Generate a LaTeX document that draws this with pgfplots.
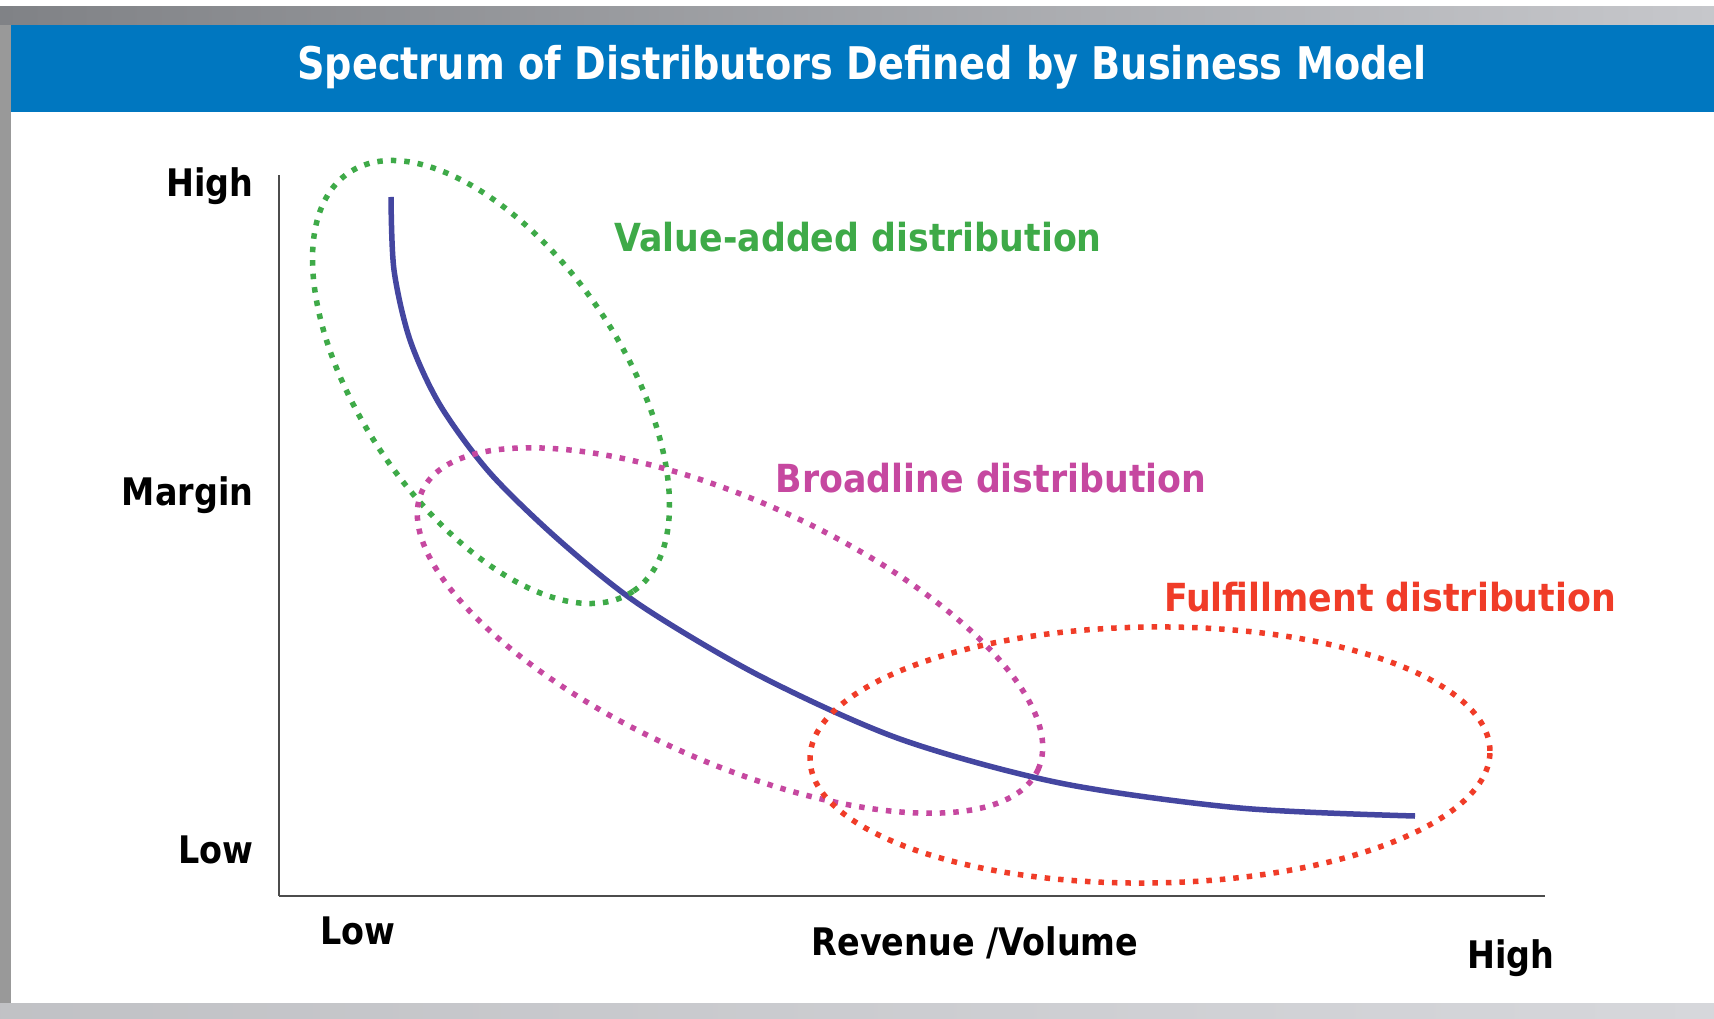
\documentclass[border=0pt]{standalone}
\usepackage{fontspec}
\setmainfont{DejaVu Sans}
\newfontfamily\labfont[FakeStretch=0.88]{DejaVu Sans}
\newfontfamily\boldfont[FakeStretch=0.9]{DejaVu Sans}
\newfontfamily\titlefont[FakeStretch=0.85]{DejaVu Sans}
\usepackage{pgfplots}
\pgfplotsset{compat=1.18}
\usetikzlibrary{backgrounds}
\definecolor{curveblue}{RGB}{68,70,160}
\definecolor{vgreen}{RGB}{62,170,72}
\definecolor{bmag}{RGB}{198,72,160}
\definecolor{fred}{RGB}{240,60,40}
\definecolor{banner}{RGB}{0,119,192}
\definecolor{banddark}{RGB}{128,130,134}
\definecolor{bandlight}{RGB}{198,199,203}
\definecolor{botband}{RGB}{214,215,219}
\tikzset{dotstyle/.style={line width=0.55mm, dash pattern=on 0.55mm off 0.8mm}}
\begin{document}
\begin{tikzpicture}
\begin{axis}[
  x=0.1mm, y=0.1mm,
  xmin=279, xmax=1545, ymin=122, ymax=843,
  axis lines=left,
  axis line style={-, draw=black!70, line width=0.25mm},
  ticks=none, clip=false,
]
\coordinate (bl) at (axis cs:0,0);
\coordinate (tr) at (axis cs:1714,1018);
% frame
\shade[left color=banddark, right color=bandlight] (axis cs:0,993) rectangle (axis cs:1714,1011);
\fill[banner] (axis cs:11,906) rectangle (axis cs:1714,993);
\fill[black!40] (axis cs:0,15) rectangle (axis cs:11,993);
\shade[left color=botband!90!black, right color=botband] (axis cs:0,0) rectangle (axis cs:1714,15);
\node[text=white, inner sep=0, font=\titlefont\bfseries\fontsize{12.8}{15}\selectfont] at (axis cs:862,951) {Spectrum of Distributors Defined by Business Model};
% curve
\addplot[smooth, color=curveblue, line width=0.55mm] coordinates {
(391,821) (394,748) (410,678) (440,613) (490,545) (560,477) (640,413)
(760,342) (900,279) (1060,235) (1240,210) (1415,202)};
% ellipses
\draw[vgreen, dotstyle] (axis cs:491,636) circle [x radius=25.3mm, y radius=13mm, rotate=-55.7];
\draw[bmag, dotstyle] (axis cs:730,387.5) circle [x radius=33.8mm, y radius=13mm, rotate=-24.3];
\draw[fred, dotstyle] (axis cs:1150,263) circle [x radius=34mm, y radius=12.8mm, rotate=0.7];
% labels
\node[vgreen, inner sep=0, font=\boldfont\bfseries\fontsize{11}{13}\selectfont] at (axis cs:858,781) {Value-added distribution};
\node[bmag, inner sep=0, font=\boldfont\bfseries\fontsize{11}{13}\selectfont] at (axis cs:991,540) {Broadline distribution};
\node[fred, inner sep=0, font=\boldfont\bfseries\fontsize{11}{13}\selectfont] at (axis cs:1390,421) {Fulfillment distribution};
\node[anchor=east, inner sep=0, font=\labfont\bfseries\fontsize{10.8}{13}\selectfont] at (axis cs:254,832) {High};
\node[anchor=east, inner sep=0, font=\labfont\bfseries\fontsize{10.8}{13}\selectfont] at (axis cs:254,523) {Margin};
\node[anchor=east, inner sep=0, font=\labfont\bfseries\fontsize{10.8}{13}\selectfont] at (axis cs:254,168) {Low};
\node[inner sep=0, font=\labfont\bfseries\fontsize{10.8}{13}\selectfont] at (axis cs:358,87) {Low};
\node[inner sep=0, font=\labfont\bfseries\fontsize{10.8}{13}\selectfont] at (axis cs:975,75) {Revenue /Volume};
\node[inner sep=0, font=\labfont\bfseries\fontsize{10.8}{13}\selectfont] at (axis cs:1511,60) {High};
\end{axis}
\begin{scope}[on background layer]
\fill[white] (bl) rectangle (tr);
\end{scope}
\end{tikzpicture}
\end{document}
